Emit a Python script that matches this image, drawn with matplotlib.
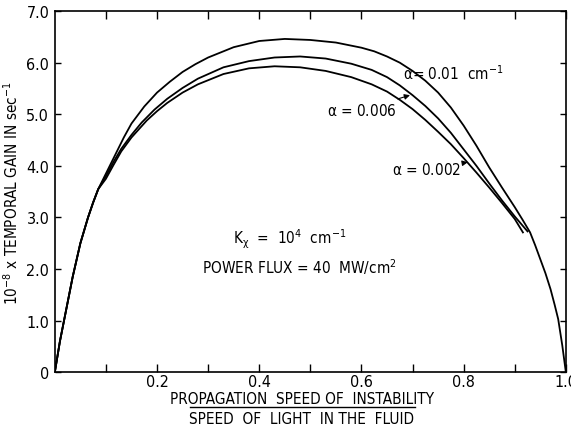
import numpy as np
import matplotlib
matplotlib.use("Agg")
import matplotlib.pyplot as plt
from matplotlib import font_manager

# shared rising part of all three curves
x_common = [0.0, 0.005, 0.01, 0.02, 0.035, 0.05, 0.065, 0.075, 0.085]
y_common = [0.0, 0.30, 0.60, 1.10, 1.85, 2.50, 3.00, 3.29, 3.55]

# alpha = 0.01 cm^-1
x_a01 = [0.10, 0.11, 0.12, 0.135, 0.15, 0.175, 0.20, 0.225, 0.25, 0.275, 0.30,
         0.35, 0.40, 0.45, 0.50, 0.55, 0.60, 0.625, 0.65, 0.675, 0.70, 0.725,
         0.75, 0.775, 0.80, 0.825, 0.85, 0.875, 0.90, 0.915, 0.93, 0.94, 0.95,
         0.96, 0.97, 0.978, 0.985, 0.993, 1.0]
y_a01 = [3.85, 4.05, 4.25, 4.55, 4.82, 5.15, 5.42, 5.63, 5.82, 5.97, 6.10,
         6.30, 6.42, 6.46, 6.44, 6.39, 6.29, 6.22, 6.12, 6.00, 5.84, 5.65,
         5.42, 5.13, 4.78, 4.39, 3.97, 3.58, 3.20, 2.96, 2.71, 2.46, 2.19,
         1.92, 1.61, 1.31, 1.03, 0.52, 0.0]

# alpha = 0.006
x_a006 = [0.10, 0.115, 0.13, 0.15, 0.17, 0.195, 0.22, 0.25, 0.28, 0.33, 0.38,
          0.43, 0.48, 0.53, 0.58, 0.62, 0.65, 0.675, 0.70, 0.725, 0.75, 0.775,
          0.80, 0.825, 0.85, 0.875, 0.90, 0.925]
y_a006 = [3.80, 4.08, 4.33, 4.60, 4.84, 5.09, 5.30, 5.51, 5.69, 5.91, 6.03,
          6.10, 6.12, 6.08, 5.98, 5.86, 5.72, 5.56, 5.37, 5.16, 4.92, 4.64,
          4.32, 4.00, 3.66, 3.33, 3.02, 2.73]

# alpha = 0.002
x_a002 = [0.10, 0.115, 0.13, 0.15, 0.18, 0.20, 0.22, 0.25, 0.28, 0.33, 0.38,
          0.43, 0.48, 0.53, 0.58, 0.62, 0.65, 0.675, 0.70, 0.725, 0.75, 0.775,
          0.80, 0.825, 0.85, 0.875, 0.90, 0.916]
y_a002 = [3.75, 4.02, 4.28, 4.55, 4.88, 5.06, 5.22, 5.42, 5.58, 5.78, 5.89,
          5.93, 5.91, 5.84, 5.72, 5.58, 5.44, 5.28, 5.10, 4.89, 4.66, 4.42,
          4.15, 3.87, 3.58, 3.28, 2.97, 2.71]

x_major = [0.2, 0.4, 0.6, 0.8, 1.0]
x_labels = ["0.2", "0.4", "0.6", "0.8", "1.0"]
y_major = [0, 1, 2, 3, 4, 5, 6, 7]
y_labels = ["0", "1.0", "2.0", "3.0", "4.0", "5.0", "6.0", "7.0"]

# prefer a condensed face if one is installed
condensed = [f for f in font_manager.fontManager.ttflist
             if f.name == "DejaVu Sans" and "Condensed" in f.fname
             and "Bold" not in f.fname and "Oblique" not in f.fname]
if condensed:
    fam = "DejaVu Sans"
    plt.rcParams["font.stretch"] = "condensed"
    txt = 11
else:
    fam = "Liberation Sans"
    txt = 9.5
plt.rcParams["font.family"] = [fam, "DejaVu Sans"]
plt.rcParams["mathtext.fontset"] = "custom"
plt.rcParams["mathtext.rm"] = fam
plt.rcParams["mathtext.it"] = fam

fig = plt.figure(figsize=(5.71, 4.31), dpi=100)
ax = fig.add_axes([0.096, 0.134, 0.895, 0.838])

for xs, ys in [(x_a01, y_a01), (x_a006, y_a006), (x_a002, y_a002)]:
    ax.plot(x_common + xs, y_common + ys, color="black", lw=1.3,
            solid_joinstyle="round")

ax.set_xlim(0, 1.0)
ax.set_ylim(0, 7.0)
ax.set_xticks(x_major)
ax.set_xticklabels(x_labels)
ax.set_xticks([0.1, 0.3, 0.5, 0.7, 0.9], minor=True)
ax.set_yticks(y_major)
ax.set_yticklabels(y_labels)
ax.tick_params(which="both", direction="in", top=True, right=True,
               length=6, width=1, labelsize=11.5, pad=1)
ax.tick_params(axis="y", length=4, pad=4)
for s in ax.spines.values():
    s.set_linewidth(1.2)

ax.set_ylabel(r"10$^{-8}$ x TEMPORAL GAIN IN sec$^{-1}$", fontsize=txt)
ax.yaxis.set_label_coords(-0.066, 0.5)

# fraction-style x label
fig.text(0.529, 0.074, "PROPAGATION  SPEED OF  INSTABILITY", ha="center",
         va="center", fontsize=txt)
fig.add_artist(plt.Line2D([0.333, 0.727], [0.053, 0.053], color="black",
                          lw=1.0, transform=fig.transFigure))
fig.text(0.529, 0.027, "SPEED  OF  LIGHT  IN THE  FLUID", ha="center",
         va="center", fontsize=txt)

ax.text(0.681, 5.81, r"$\alpha$= 0.01  cm$^{-1}$", fontsize=txt, va="center")
ax.annotate(r"$\alpha$ = 0.006", xy=(0.695, 5.37), xytext=(0.532, 5.08),
            fontsize=txt, va="center",
            arrowprops=dict(arrowstyle="-|>", color="black", lw=0.8,
                            mutation_scale=8, shrinkA=1, shrinkB=0))
ax.annotate(r"$\alpha$ = 0.002", xy=(0.808, 4.07), xytext=(0.659, 3.93),
            fontsize=txt, va="center",
            arrowprops=dict(arrowstyle="-|>", color="black", lw=0.8,
                            mutation_scale=8, shrinkA=1, shrinkB=0))

ax.text(0.46, 2.6, r"K$_{\chi}$  =  10$^{4}$  cm$^{-1}$", fontsize=txt,
        ha="center", va="center")
ax.text(0.288, 2.05, r"POWER FLUX = 40  MW/cm$^{2}$", fontsize=txt,
        ha="left", va="center")

fig.savefig("out.png", dpi=100)
